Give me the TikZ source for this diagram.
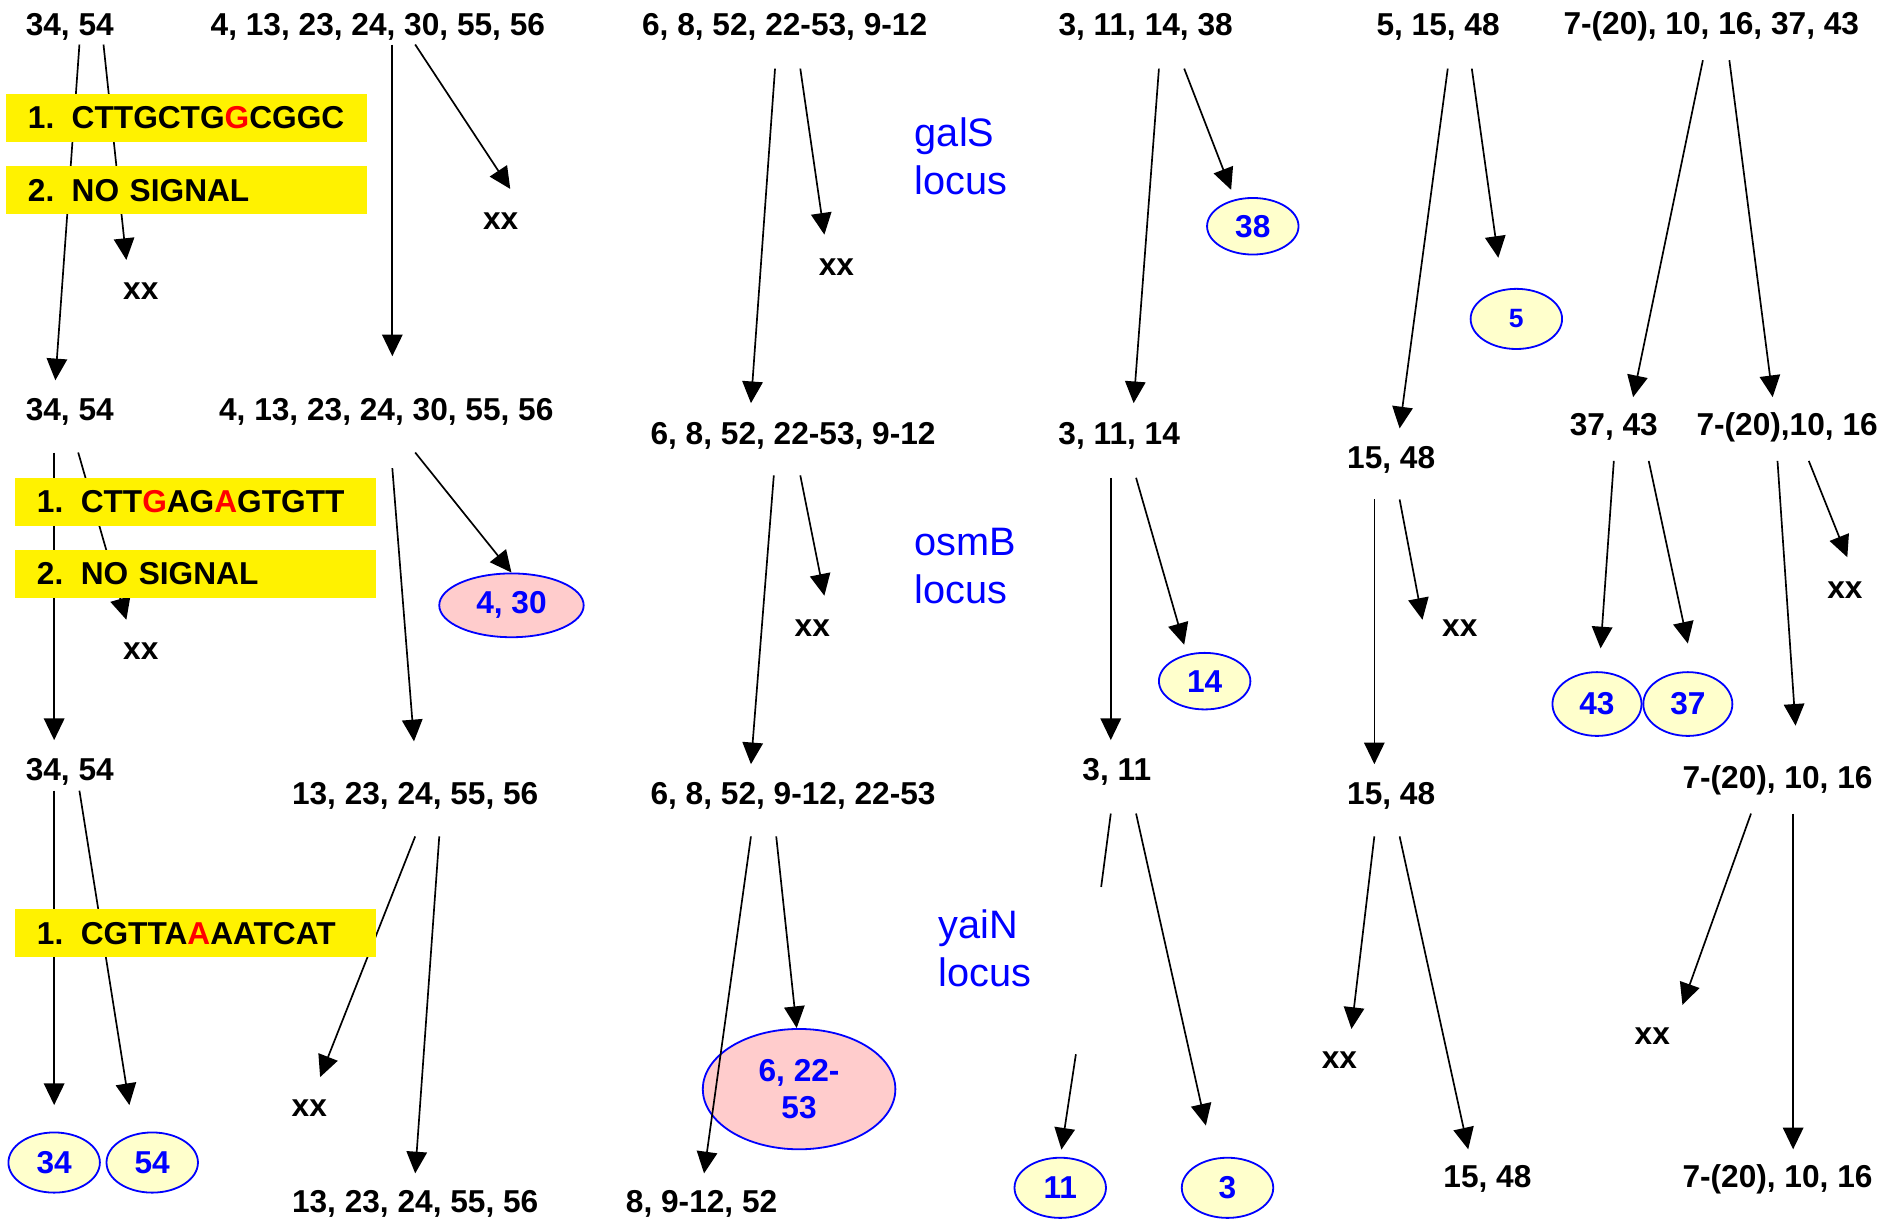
\documentclass[tikz,border=0pt]{standalone}
\usepackage{fontspec}
\setmainfont{Liberation Sans}
\usetikzlibrary{shapes.geometric,arrows.meta,calc,positioning}
\definecolor{paleyellow}{HTML}{FFFFCC}
\definecolor{palepink}{HTML}{FFCCCC}
\newcommand{\lblfont}{\bfseries\fontsize{26.3}{31}\selectfont}

\begin{document}
\begin{tikzpicture}[x=1pt, y=-1pt, every node/.style={font=\lblfont, inner sep=0pt},
    arr/.style={line width=1.4pt, -{Triangle[length=18pt,width=17pt]}},
    seqbox/.style={fill=yellow, minimum height=40pt, text width=264pt, inner xsep=18pt, align=left, anchor=west},
    clone/.style={ellipse, draw=blue, line width=1.5pt, fill=paleyellow, text=blue, minimum width=76pt, minimum height=50pt},
    pool/.style={clone, fill=palepink},
    locus/.style={text=blue, font=\fontsize{33}{40}\selectfont, align=left, anchor=west}]
    \useasboundingbox (0,0) rectangle (1568,1014.6);

    \node (a1) at (58,22) {34, 54};
    \node (b1) at (58,342) {34, 54};
    \node (c1) at (58,641) {34, 54};
    \node[clone] (e34) at (45,966) {34};
    \node[clone, right=4pt of e34] (e54) {54};
    \node (xx1) at (117,242) {xx};
    \node (xx2) at (117,541) {xx};

    \node (a2) at (314,22) {4, 13, 23, 24, 30, 55, 56};
    \node (b2) at (321,342) {4, 13, 23, 24, 30, 55, 56};
    \node (c2) at (345,661) {13, 23, 24, 55, 56};
    \node (d2) at (345,1000) {13, 23, 24, 55, 56};
    \node (xx3) at (416,184) {xx};
    \node (xx4) at (257,921) {xx};
    \node[pool, minimum width=120pt, minimum height=53pt] (e430) at (425,503) {4, 30};

    \node (a3) at (652,22) {6, 8, 52, 22-53, 9-12};
    \node (b3) at (659,362) {6, 8, 52, 22-53, 9-12};
    \node (c3) at (659,661) {6, 8, 52, 9-12, 22-53};
    \node (d3) at (583,1000) {8, 9-12, 52};
    \node (xx5) at (695,222) {xx};
    \node (xx6) at (675,522) {xx};
    \node[pool, minimum width=160pt, minimum height=100pt, align=center] (e622) at (664,905) {6, 22-\\53};
    \node[locus] (gals) at (760,130) {galS\\locus};
    \node[locus] (osmb) at (760,470) {osmB\\locus};
    \node[locus] (yain) at (780,788) {yaiN\\locus};

    \node (a4) at (952,22) {3, 11, 14, 38};
    \node (b4) at (930,362) {3, 11, 14};
    \node (c4) at (928,641) {3, 11};
    \node[clone, minimum height=47pt] (e38) at (1041,188) {38};
    \node[clone, minimum height=47pt] (e14) at (1001,566) {14};
    \node[clone] (e11) at (881,987) {11};
    \node[clone] (e3) at (1020,987) {3};
    \coordinate (brk1) at (915,737);
    \coordinate (brk2) at (894,876);

    \node (a5) at (1195,22) {5, 15, 48};
    \node (b5) at (1156,382) {15, 48};
    \node (c5) at (1156,661) {15, 48};
    \node (d5) at (1236,980) {15, 48};
    \node (xx7) at (1213,522) {xx};
    \node (xx8) at (1113,881) {xx};
    \node[clone, font=\bfseries\fontsize{22}{24}\selectfont] (e5) at (1260,265) {5};

    \node (a6) at (1422,22) {7-(20), 10, 16, 37, 43};
    \node (b6) at (1341,355) {37, 43};
    \node (b7) at (1485,355) {7-(20),10, 16};
    \node (c6) at (1477,648) {7-(20), 10, 16};
    \node (d6) at (1477,980) {7-(20), 10, 16};
    \node (xx9) at (1533,490) {xx};
    \node (xx10) at (1373,861) {xx};
    \node[clone, minimum width=74pt, minimum height=53pt] (e43) at (1327,585) {43};
    \node[clone, minimum width=74pt, minimum height=53pt, right=0pt of e43] (e37) {37};

    \draw[arr] ($(a1)+(8,15)$) -- ($(b1)+(-12,-26)$);
    \draw[arr] ($(a1)+(28,15)$) -- ($(xx1)+(-12,-26)$);
    \draw[arr] ($(b1)+(-13,34)$) -- ($(c1)+(-13,-26)$);
    \draw[arr] ($(b1)+(7,34)$) -- ($(xx2)+(-12,-26)$);
    \draw[arr] ($(c1)+(-13,16)$) -- ($(e34.north)+(0,-22)$);
    \draw[arr] ($(c1)+(8,16)$) -- ($(e54.north)+(-19,-22)$);

    \draw[arr] ($(a2)+(12,15)$) -- ($(b2)+(5,-46)$);
    \draw[arr] ($(a2)+(31,15)$) -- ($(xx3)+(8,-27)$);
    \draw[arr] ($(b2)+(5,47)$) -- ($(c2)+(-1,-45)$);
    \draw[arr] ($(b2)+(24,34)$) -- (e430.north);
    \draw[arr] ($(c2)+(0,34)$) -- ($(xx4)+(9,-26)$);
    \draw[arr] ($(c2)+(20,34)$) -- ($(d2)+(0,-25)$);

    \draw[arr] ($(a3)+(-8,35)$) -- ($(b3)+(-35,-27)$);
    \draw[arr] ($(a3)+(13,35)$) -- ($(xx5)+(-10,-27)$);
    \draw[arr] ($(b3)+(-16,33)$) -- ($(c3)+(-35,-26)$);
    \draw[arr] ($(b3)+(6,33)$) -- ($(xx6)+(10,-27)$);
    \draw[arr] ($(c3)+(-35,34)$) -- ($(d3)+(2,-25)$);
    \draw[arr] ($(c3)+(-14,34)$) -- ($(e622.north)+(-2,0)$);

    \draw[arr] ($(a4)+(11,35)$) -- ($(b4)+(12,-27)$);
    \draw[arr] ($(a4)+(32,35)$) -- ($(e38.north)+(-18,-6)$);
    \draw[arr] ($(b4)+(-7,35)$) -- ($(c4)+(-5,-26)$);
    \draw[arr] ($(b4)+(14,35)$) -- ($(e14.north)+(-17,-6)$);
    \draw[line width=1.4pt] ($(c4)+(-5,35)$) -- (brk1);
    \draw[arr] (brk2) -- ($(e11.north)+(1,-6)$);
    \draw[arr] ($(c4)+(16,35)$) -- ($(e3.north)+(-18,-26)$);

    \draw[arr] ($(a5)+(8,35)$) -- ($(b5)+(7,-26)$);
    \draw[arr] ($(a5)+(28,35)$) -- ($(e5.north)+(-15,-25)$);
    \draw[arr] ($(b5)+(-14,33)$) -- ($(c5)+(-14,-26)$);
    \draw[arr] ($(b5)+(7,33)$) -- ($(xx7)+(-31,-7)$);
    \draw[arr] ($(c5)+(-14,34)$) -- ($(xx8)+(10,-26)$);
    \draw[arr] ($(c5)+(7,34)$) -- ($(d5)+(-16,-25)$);

    \draw[arr] ($(a6)+(-7,28)$) -- ($(b6)+(16,-25)$);
    \draw[arr] ($(a6)+(15,28)$) -- ($(b7)+(-12,-25)$);
    \draw[arr] ($(b6)+(0,28)$) -- ($(e43.north)+(3,-19)$);
    \draw[arr] ($(b6)+(29,28)$) -- ($(e37.north)+(0,-23)$);
    \draw[arr] ($(b7)+(-8,28)$) -- ($(c6)+(15,-45)$);
    \draw[arr] ($(b7)+(18,28)$) -- ($(xx9)+(2,-27)$);
    \draw[arr] ($(c6)+(-22,28)$) -- ($(xx10)+(25,-26)$);
    \draw[arr] ($(c6)+(13,28)$) -- ($(d6)+(13,-25)$);

    \node[seqbox] (seq1) at (5,98) {\mbox{1.\hspace{0.55em}CTTGCTG\textcolor{red}{G}CGGC}};
    \node[seqbox] (sig1) at (5,158) {\mbox{2.\hspace{0.55em}NO SIGNAL}};
    \node[seqbox] (seq2) at (12.5,417) {\mbox{1.\hspace{0.55em}CTT\textcolor{red}{G}AG\textcolor{red}{A}GTGTT}};
    \node[seqbox] (sig2) at (12.5,477) {\mbox{2.\hspace{0.55em}NO SIGNAL}};
    \node[seqbox] (seq3) at (12.5,775.5) {\mbox{1.\hspace{0.55em}CGTTA\textcolor{red}{A}AATCAT}};
\end{tikzpicture}
\end{document}
